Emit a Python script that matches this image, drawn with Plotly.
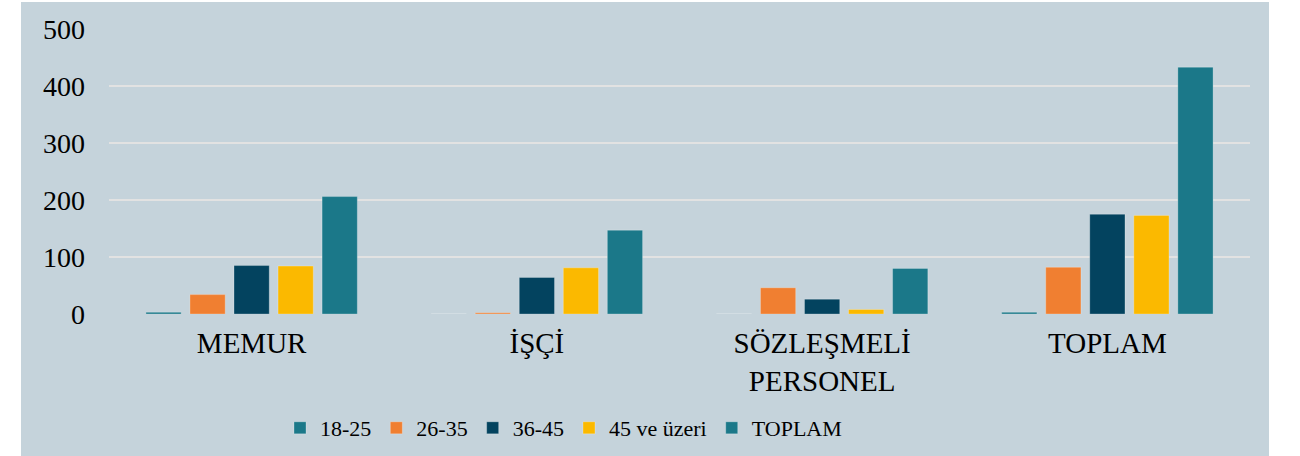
import plotly.graph_objects as go

categories = ["MEMUR", "İŞÇİ", "SÖZLEŞMELİ<br>PERSONEL", "TOPLAM"]
series_names = ["18-25", "26-35", "36-45", "45 ve üzeri", "TOPLAM"]
v_18_25 = [3, 0, 0, 3]
v_26_35 = [34, 2, 46, 82]
v_36_45 = [85, 64, 26, 175]
v_45_up = [84, 81, 8, 173]
v_toplam = [206, 147, 80, 433]
y_ticks = [0, 100, 200, 300, 400, 500]

colors = ["#1B7889", "#F07F31", "#03435F", "#FBB900", "#1B7889"]
values = [v_18_25, v_26_35, v_36_45, v_45_up, v_toplam]

BG = "#C5D3DB"
FONT = "Liberation Serif"

fig = go.Figure()
for name, vals, col in zip(series_names, values, colors):
    fig.add_trace(go.Bar(
        x=categories, y=vals, name=name,
        marker=dict(color=col, line=dict(color="rgba(255,255,255,0.25)", width=1)),
    ))

fig.update_layout(
    width=1300, height=456,
    margin=dict(l=109, r=50, t=29, b=142, autoexpand=False),
    paper_bgcolor="white",
    plot_bgcolor=BG,
    barmode="group",
    bargap=0.228,
    bargroupgap=0.2,
    font=dict(family=FONT, color="#000000"),
    showlegend=True,
    legend=dict(
        orientation="h", x=(280 - 109) / 1141, xanchor="left", y=-0.40, yanchor="middle",
        font=dict(size=22, family=FONT, color="#000000"),
        bgcolor="rgba(0,0,0,0)", itemwidth=30, traceorder="normal",
    ),
    shapes=[dict(
        type="rect", xref="paper", yref="paper",
        x0=(21 - 109) / 1141, x1=(1269 - 109) / 1141,
        y0=(314 - 470) / 285, y1=(314 - 2) / 285,
        fillcolor=BG, line=dict(width=0), layer="below",
    )],
)
fig.update_xaxes(
    showgrid=False, showline=False, zeroline=False, automargin=False,
    tickfont=dict(size=29, family=FONT, color="#000000"),
    ticklabelstandoff=9,
)
fig.update_yaxes(
    range=[0, 500], tickvals=y_ticks, automargin=False,
    showgrid=True, gridcolor="#E2E2E2", gridwidth=2,
    zeroline=False, showline=False,
    tickfont=dict(size=28, family=FONT, color="#000000"),
    ticklabelstandoff=23,
)

fig.write_html("out.html", config={"displayModeBar": False},
               post_script="document.body.style.margin='0';")
